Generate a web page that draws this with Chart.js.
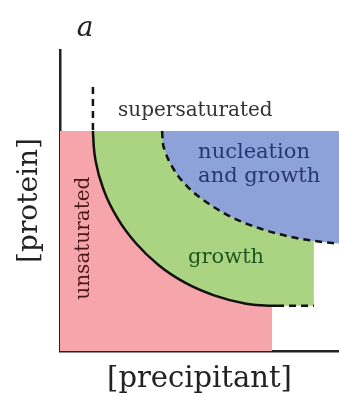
<!DOCTYPE html>
<html>
<head>
<meta charset="utf-8">
<script src="https://cdn.jsdelivr.net/npm/chart.js@4.4.0/dist/chart.umd.min.js"></script>
<style>
html,body{margin:0;padding:0;background:#fff;}
</style>
</head>
<body>
<canvas id="myChart" width="339" height="397"></canvas>
<script>
// axis titles and panel letter
const xTitle = "[precipitant]";
const yTitle = "[protein]";
const panelLetter = "a";

// region names
const regionNames = ["supersaturated", "nucleation", "and growth", "growth", "unsaturated"];

// solubility curve (solid), last segment is the dashed tail
const solubilityX = [1.18, 1.21, 1.28, 1.58, 2.07, 2.73, 3.54, 4.48, 5.52, 6.63, 7.20, 7.78, 9.10];
const solubilityY = [7.31, 6.80, 6.30, 5.32, 4.40, 3.57, 2.85, 2.27, 1.85, 1.58, 1.52, 1.50, 1.50];

// dashed continuation of the solubility curve above the shaded area
const solubilityTopX = [1.18, 1.18];
const solubilityTopY = [8.77, 7.31];

// nucleation boundary (dashed)
const nucleationX = [3.66, 3.68, 3.76, 4.08, 4.60, 5.32, 6.19, 7.20, 8.33, 9.52, 10];
const nucleationY = [7.31, 6.98, 6.66, 6.03, 5.43, 4.90, 4.43, 4.06, 3.78, 3.61, 3.57];

// unsaturated block
const unsatX = [0, 7.6];
const unsatY = [7.31, 7.31];

const topLevel = 7.31;

const pts = (xs, ys) => xs.map((v, i) => ({x: v, y: ys[i]}));
const serif = "'DejaVu Serif', 'Liberation Serif', serif";

// where each region name goes (data units) and how it looks
const labelStyle = [
    {x: 2.08, y: 7.97, color: "#333333", size: 20, rot: 0},
    {x: 4.95, y: 6.58, color: "#28366f", size: 21, rot: 0},
    {x: 4.95, y: 5.81, color: "#28366f", size: 21, rot: 0},
    {x: 4.59, y: 3.09, color: "#1f561f", size: 21, rot: 0},
    {x: 0.86, y: 3.75, color: "#4a1818", size: 20, rot: -Math.PI / 2}
];

const labelPlugin = {
    id: "regionLabels",
    afterDatasetsDraw(chart) {
        const ctx = chart.ctx;
        const xs = chart.scales.x, ys = chart.scales.y;
        ctx.save();
        ctx.textBaseline = "middle";
        regionNames.forEach((name, i) => {
            const s = labelStyle[i];
            ctx.save();
            ctx.translate(xs.getPixelForValue(s.x), ys.getPixelForValue(s.y));
            ctx.rotate(s.rot);
            ctx.fillStyle = s.color;
            ctx.font = s.size + "px " + serif;
            ctx.textAlign = s.rot ? "center" : "left";
            ctx.fillText(name, 0, 0);
            ctx.restore();
        });
        ctx.font = "italic 28px " + serif;
        ctx.fillStyle = "#222";
        ctx.textAlign = "center";
        ctx.fillText(panelLetter, 85, 29);
        ctx.restore();
    }
};

let myChart = document.getElementById("myChart").getContext("2d");
let phaseChart = new Chart(myChart, {
    type: "scatter",
    data: {
        datasets: [
            {
                label: "unsaturated",
                data: pts(unsatX, unsatY),
                showLine: true,
                borderWidth: 0,
                pointRadius: 0,
                backgroundColor: "rgb(246,166,170)",
                fill: "origin",
                order: 5
            },
            {
                label: "growth",
                data: pts(solubilityX, solubilityY),
                showLine: true,
                borderWidth: 0,
                borderColor: "rgba(0,0,0,0)",
                pointRadius: 0,
                cubicInterpolationMode: "monotone",
                backgroundColor: "rgb(170,212,130)",
                fill: {value: topLevel},
                order: 4
            },
            {
                label: "solubility",
                data: pts(solubilityX, solubilityY),
                showLine: true,
                borderColor: "#111",
                borderWidth: 2.5,
                pointRadius: 0,
                cubicInterpolationMode: "monotone",
                fill: false,
                segment: {
                    borderDash: c => c.p0DataIndex >= solubilityX.length - 2 ? [7, 5] : undefined
                },
                order: 3
            },
            {
                label: "nucleation",
                data: pts(nucleationX, nucleationY),
                showLine: true,
                borderColor: "#111",
                borderWidth: 2.5,
                borderDash: [7, 5],
                pointRadius: 0,
                cubicInterpolationMode: "monotone",
                backgroundColor: "rgb(142,162,218)",
                fill: {value: topLevel},
                order: 2
            },
            {
                label: "solubility top",
                data: pts(solubilityTopX, solubilityTopY),
                showLine: true,
                borderColor: "#111",
                borderWidth: 2.5,
                borderDash: [7, 5],
                pointRadius: 0,
                fill: false,
                order: 1
            }
        ]
    },
    options: {
        responsive: false,
        animation: false,
        layout: {padding: {top: 50, right: 0, left: 0, bottom: 0}},
        plugins: {
            legend: {display: false},
            tooltip: {enabled: false}
        },
        scales: {
            x: {
                type: "linear",
                min: 0,
                max: 10,
                grid: {display: false, drawTicks: false},
                ticks: {display: false},
                border: {display: true, color: "#222", width: 2.5},
                title: {
                    display: true,
                    text: xTitle,
                    color: "#222",
                    font: {family: serif, size: 29},
                    padding: {top: 0, bottom: 0}
                },
                afterFit: s => { s.height = 46; }
            },
            y: {
                type: "linear",
                min: 0,
                max: 10,
                grid: {display: false, drawTicks: false},
                ticks: {display: false},
                border: {display: true, color: "#222", width: 2.5},
                title: {
                    display: true,
                    text: yTitle,
                    color: "#222",
                    font: {family: serif, size: 28},
                    padding: {top: 13, bottom: 0}
                },
                afterFit: s => { s.width = 60; }
            }
        }
    },
    plugins: [labelPlugin]
});
</script>
</body>
</html>
